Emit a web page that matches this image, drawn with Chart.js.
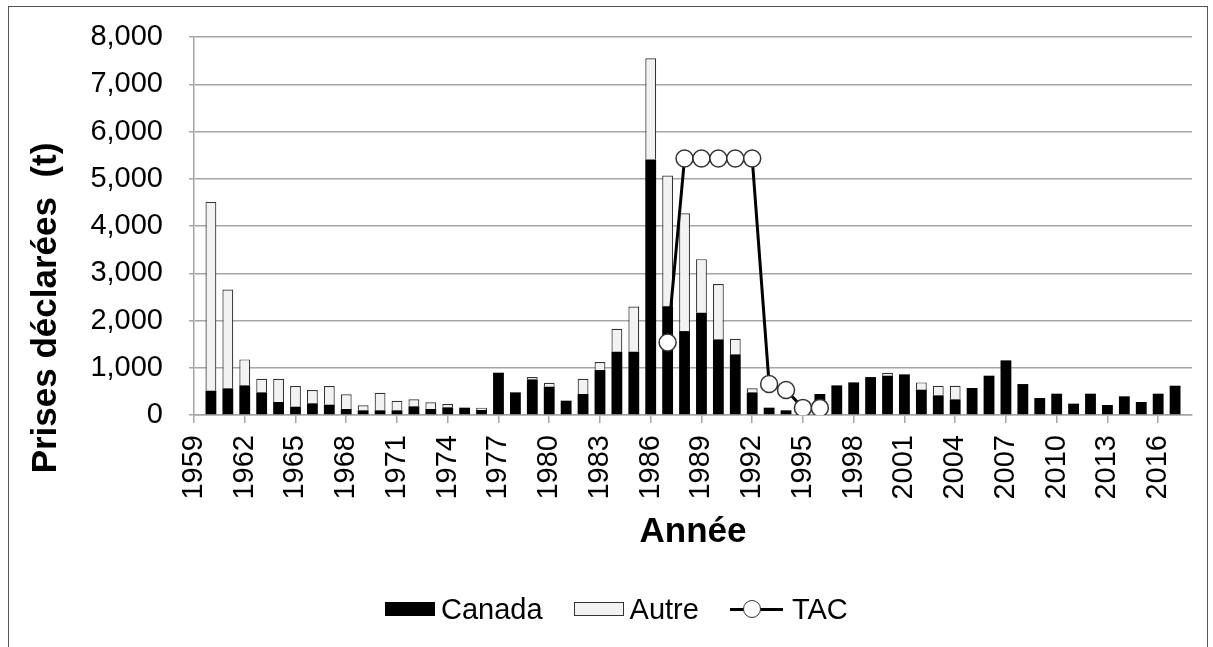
<!DOCTYPE html>
<html>
<head>
<meta charset="utf-8">
<title>Prises déclarées</title>
<script src="https://cdn.jsdelivr.net/npm/chart.js"></script>
<style>
body{margin:0;background:#fff;}
#wrap{position:relative;width:1213px;height:647px;overflow:hidden;font-family:Arial,"Liberation Sans",sans-serif;}
#frame{position:absolute;left:8px;top:6px;width:1198px;height:700px;border:1px solid #555;}
#c{position:absolute;left:0;top:0;}
#legend{position:absolute;left:385px;top:590px;height:38px;display:flex;align-items:center;font-size:29px;color:#000;}
#legend .item{display:flex;align-items:center;margin-right:31px;}
#legend .item:last-child{margin-right:0;}
#legend .box{display:inline-block;width:48px;height:12px;border:1px solid;margin-right:6px;}
#legend .line{display:inline-block;position:relative;width:53px;height:3px;background:#000;margin-right:9px;}
#legend .line i{position:absolute;left:13px;top:-8px;width:18px;height:18px;box-sizing:border-box;border:1.5px solid #333;border-radius:50%;background:#fff;}
</style>
</head>
<body>
<div id="wrap">
  <div id="frame"></div>
  <canvas id="c" width="1213" height="647"></canvas>
  <div id="legend"></div>
</div>
<script>
// années (1959 et 2018 sans données)
var years = ['1959','1960','1961','1962','1963','1964','1965','1966','1967','1968',
  '1969','1970','1971','1972','1973','1974','1975','1976','1977','1978',
  '1979','1980','1981','1982','1983','1984','1985','1986','1987','1988',
  '1989','1990','1991','1992','1993','1994','1995','1996','1997','1998',
  '1999','2000','2001','2002','2003','2004','2005','2006','2007','2008',
  '2009','2010','2011','2012','2013','2014','2015','2016','2017','2018'];

// prises Canada (t)
var canada = [null,514,564,627,479,275,176,247,218,127,
  99,99,99,183,127,162,155,106,895,479,
  754,599,303,444,951,1339,1339,5405,2304,1776,
  2164,1600,1283,479,155,99,50,444,627,690,
  803,832,860,536,416,331,571,832,1156,655,
  359,451,240,451,211,395,275,451,620,null];

// prises autres pays (t)
var autre = [null,3996,2093,550,289,493,437,282,395,310,
  105,373,204,148,141,71,null,49,null,null,
  49,85,null,324,169,486,958,2143,2763,2495,
  1134,1170,331,85,null,null,null,null,null,null,
  null,63,null,154,204,289,null,null,null,null,
  null,null,null,null,null,null,null,null,null,null];

// TAC (t)
var tac = [null,null,null,null,null,null,null,null,null,null,
  null,null,null,null,null,null,null,null,null,null,
  null,null,null,null,null,null,null,null,1536,5430,
  5430,5430,5430,5430,655,529,150,150,null,null,
  null,null,null,null,null,null,null,null,null,null,
  null,null,null,null,null,null,null,null,null,null];

var yTitle = 'Prises déclarées  (t)';
var xTitle = 'Année';

var FONT = 'Arial, "Liberation Sans", sans-serif';
var GRID = '#a6a6a6';
Chart.defaults.font.family = FONT;
Chart.defaults.color = '#000';

// titre vertical dessiné à la main (position comme l'original)
var yTitlePlugin = {
  id: 'yTitle',
  afterDraw: function(chart){
    var ctx = chart.ctx;
    ctx.save();
    ctx.translate(56, 308);
    ctx.rotate(-Math.PI / 2);
    ctx.font = 'bold 35px ' + FONT;
    ctx.fillStyle = '#000';
    ctx.textAlign = 'center';
    ctx.textBaseline = 'alphabetic';
    ctx.fillText(yTitle, 0, 0);
    ctx.restore();
  }
};

var ctx = document.getElementById('c');
var chart = new Chart(ctx, {
  type: 'bar',
  data: {
    labels: years,
    datasets: [
      {
        type: 'line',
        label: 'TAC',
        data: tac,
        borderColor: '#000',
        borderWidth: 3,
        backgroundColor: '#fff',
        pointRadius: 8.5,
        pointBorderWidth: 1.5,
        pointBorderColor: '#333',
        pointBackgroundColor: '#fff',
        spanGaps: false,
        stack: 'tac',
        order: 0
      },
      {
        label: 'Canada',
        data: canada,
        backgroundColor: '#000',
        borderColor: '#000',
        borderWidth: 0,
        stack: 'prises',
        order: 1
      },
      {
        label: 'Autre',
        data: autre,
        backgroundColor: '#f2f2f2',
        borderColor: '#333',
        borderWidth: 1.2,
        stack: 'prises',
        order: 1
      }
    ]
  },
  options: {
    responsive: false,
    animation: false,
    events: [],
    barPercentage: 0.64,
    categoryPercentage: 1,
    layout: { padding: { left: 10, top: 37, right: 21, bottom: 82 } },
    plugins: {
      legend: { display: false },
      tooltip: { enabled: false }
    },
    scales: {
      x: {
        stacked: true,
        offset: false,
        grid: { offset: false, drawOnChartArea: false, drawTicks: true, tickLength: 8, color: GRID, lineWidth: 1.5 },
        border: { color: GRID, width: 1.5 },
        ticks: {
          autoSkip: false,
          minRotation: 90,
          maxRotation: 90,
          padding: 12,
          font: { size: 29 },
          color: '#000',
          callback: function(val, i){ return i % 3 === 0 ? years[i] : null; }
        },
        title: { display: true, text: xTitle, font: { size: 35, weight: 'bold' }, color: '#000', padding: { top: 0, bottom: 12 } },
        afterFit: function(scale){ scale.height = 150; }
      },
      y: {
        stacked: true,
        min: 0,
        max: 8000,
        ticks: { stepSize: 1000, padding: 26, font: { size: 29 }, color: '#000' },
        grid: { color: GRID, lineWidth: 1.5, drawTicks: true, tickLength: 5 },
        border: { color: GRID, width: 1.5 },
        afterFit: function(scale){
          scale.width = 184;
          // la marge du haut vient du layout, pas des étiquettes
          scale.paddingTop = 0;
          scale.paddingBottom = 0;
        }
      }
    }
  },
  plugins: [yTitlePlugin]
});

// légende en HTML (ordre Canada, Autre, TAC)
var legendBox = document.getElementById('legend');
['Canada', 'Autre', 'TAC'].forEach(function(name){
  var ds = chart.data.datasets.filter(function(d){ return d.label === name; })[0];
  var item = document.createElement('div');
  item.className = 'item';
  var sym = document.createElement('span');
  if (ds.type === 'line') {
    sym.className = 'line';
    sym.innerHTML = '<i></i>';
  } else {
    sym.className = 'box';
    sym.style.background = ds.backgroundColor;
    sym.style.borderColor = ds.borderWidth ? ds.borderColor : ds.backgroundColor;
  }
  var txt = document.createElement('span');
  txt.textContent = ds.label;
  item.appendChild(sym);
  item.appendChild(txt);
  legendBox.appendChild(item);
});
</script>
</body>
</html>
